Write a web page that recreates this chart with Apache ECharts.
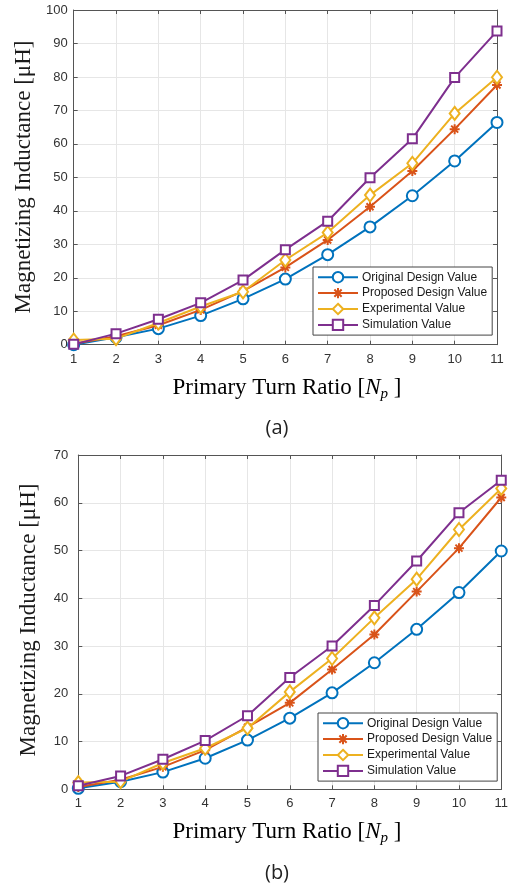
<!DOCTYPE html>
<html><head><meta charset="utf-8">
<script src="https://cdn.jsdelivr.net/npm/echarts@6/dist/echarts.min.js"></script>
<style>html,body{margin:0;padding:0;background:#fff}#c{width:511px;height:887px}</style>
</head><body><div id="c"></div>
<script>
const turnRatios = [1,2,3,4,5,6,7,8,9,10,11];
const seriesNames = ['Original Design Value','Proposed Design Value','Experimental Value','Simulation Value'];
// (a)
const aOriginal     = [0.0,2.2,4.8,8.7,13.7,19.6,26.9,35.2,44.5,54.9,66.4];
const aProposed     = [0.3,2.5,5.8,10.4,16.0,23.1,31.3,41.2,51.9,64.4,77.6];
const aExperimental = [1.4,1.8,6.5,11.4,15.8,25.3,33.5,44.7,54.2,69.1,79.9];
const aSimulation   = [0.1,3.3,7.6,12.5,19.3,28.4,36.9,49.9,61.5,79.8,93.7];
// (b)
const bOriginal     = [0.2,1.6,3.6,6.5,10.3,14.9,20.2,26.5,33.5,41.2,49.9];
const bProposed     = [0.5,2.0,4.7,8.2,13.0,18.1,25.1,32.4,41.4,50.5,61.1];
const bExperimental = [1.4,1.6,5.5,8.6,12.8,20.4,27.4,35.9,44.0,54.4,63.0];
const bSimulation   = [0.75,2.8,6.3,10.2,15.4,23.4,30.0,38.5,47.8,57.9,64.7];
// axis ranges / tick steps
const xRange = [1, 11, 1];
const yRangeA = [0, 100, 10];
const yRangeB = [0, 70, 10];
const panelLabels = ['(a)', '(b)'];

const colors = ['#0072BD','#D95319','#EDB120','#7E2F8E'];
const asterisk = 'path://M5,0L5,10M0,5L10,5M1.5,1.5L8.5,8.5M1.5,8.5L8.5,1.5';
const symbols = ['emptyCircle', asterisk, 'emptyDiamond', 'emptyRect'];
const symbolSizes = [11, 10, [10,13], 9];
const AX = '#555';
const lab = {color:'#333', fontSize:13, fontFamily:'Liberation Sans, Arial, sans-serif'};

function xAxes(grid){
  return [
    {type:'value', gridIndex:grid, min:xRange[0], max:xRange[1], interval:xRange[2], position:'bottom',
     axisLine:{show:true,onZero:false,lineStyle:{color:AX,width:1}},
     axisTick:{show:true,inside:true,length:4,lineStyle:{color:AX}},
     axisLabel:Object.assign({margin:8}, lab),
     splitLine:{show:true,lineStyle:{color:'#e6e6e6',width:1}}},
    {type:'value', gridIndex:grid, min:xRange[0], max:xRange[1], interval:xRange[2], position:'top',
     axisLine:{show:true,onZero:false,lineStyle:{color:AX,width:1}},
     axisTick:{show:true,inside:true,length:4,lineStyle:{color:AX}},
     axisLabel:{show:false}, splitLine:{show:false}}
  ];
}
function yAxes(grid, r, margin){
  return [
    {type:'value', gridIndex:grid, min:r[0], max:r[1], interval:r[2], position:'left',
     axisLine:{show:true,onZero:false,lineStyle:{color:AX,width:1}},
     axisTick:{show:true,inside:true,length:4,lineStyle:{color:AX}},
     axisLabel:Object.assign({margin:margin}, lab),
     splitLine:{show:true,lineStyle:{color:'#e6e6e6',width:1}}},
    {type:'value', gridIndex:grid, min:r[0], max:r[1], interval:r[2], position:'right',
     axisLine:{show:true,onZero:false,lineStyle:{color:AX,width:1}},
     axisTick:{show:true,inside:true,length:4,lineStyle:{color:AX}},
     axisLabel:{show:false}, splitLine:{show:false}}
  ];
}
function mk(name, i, vals, xi, yi){
  const s = {
    name:name, type:'line', xAxisIndex:xi, yAxisIndex:yi, clip:false,
    data: turnRatios.map((x,k)=>[x, vals[k]]),
    symbol: symbols[i], symbolSize: symbolSizes[i], showSymbol:true,
    lineStyle:{color:colors[i], width:2},
    itemStyle:{color: colors[i], borderWidth: 2},
    emphasis:{disabled:true}, animation:false, z: 2+i
  };
  if (i===1) s.itemStyle = {color: colors[i], borderColor: colors[i], borderWidth: 2};
  return s;
}
const setsA = [aOriginal,aProposed,aExperimental,aSimulation];
const setsB = [bOriginal,bProposed,bExperimental,bSimulation];
const series = [];
setsA.forEach((v,i)=>series.push(mk(seriesNames[i], i, v, 0, 0)));
setsB.forEach((v,i)=>series.push(mk(seriesNames[i], i, v, 2, 2)));

function legend(left, top){
  return {
    show:true, orient:'vertical', left:left, top:top, itemWidth:40, itemHeight:13, itemGap:3.5,
    padding:[4,5,4,4], borderColor:'#444', borderWidth:1, backgroundColor:'#fff', selectedMode:false,
    data: seriesNames,
    textStyle:{color:'#1a1a1a', fontSize:12, fontFamily:'Liberation Sans, Arial, sans-serif', padding:[0,0,0,-1]}
  };
}
const serif = 'Liberation Serif, Times New Roman, serif';
const richX = {
  a:{fontSize:23, fontFamily:serif, color:'#1a1a1a', lineHeight:28},
  i:{fontSize:23, fontFamily:serif, fontStyle:'italic', color:'#1a1a1a', lineHeight:28},
  s:{fontSize:15, fontFamily:serif, fontStyle:'italic', color:'#1a1a1a', lineHeight:14, verticalAlign:'bottom'}
};
function yTitle(x, y){
  return {type:'text', x:x, y:y, rotation:Math.PI/2, silent:true,
    style:{text:'Magnetizing Inductance [μH]', fontSize:23, fontFamily:serif, fill:'#1a1a1a', align:'center', verticalAlign:'middle'}};
}
function xTitle(x, y){
  return {type:'text', x:x, y:y, silent:true,
    style:{text:'{a|Primary Turn Ratio [}{i|N}{s|p}{a| ]}', rich:richX, align:'center', verticalAlign:'middle'}};
}
function panel(t, x, y){
  return {type:'text', x:x, y:y, silent:true,
    style:{text:t, fontSize:20, fontFamily:'Open Sans, Noto Sans, sans-serif', fill:'#222', align:'center', verticalAlign:'middle'}};
}

const option = {
  animation:false,
  backgroundColor:'#fff',
  grid:[
    {left:73.7, top:10, width:423.3, height:334.7, containLabel:false},
    {left:78.3, top:455, width:424, height:334.3, containLabel:false}
  ],
  xAxis:[...xAxes(0), ...xAxes(1)],
  yAxis:[...yAxes(0, yRangeA, 6), ...yAxes(1, yRangeB, 10)],
  legend:[legend(313, 267), legend(318, 713)],
  series: series,
  graphic:[
    yTitle(24, 177), yTitle(29, 620),
    xTitle(287, 388), xTitle(287, 832),
    panel(panelLabels[0], 277, 428), panel(panelLabels[1], 277, 873)
  ]
};
const chart = echarts.init(document.getElementById('c'), null, {renderer:'canvas'});
chart.setOption(option);
</script></body></html>
